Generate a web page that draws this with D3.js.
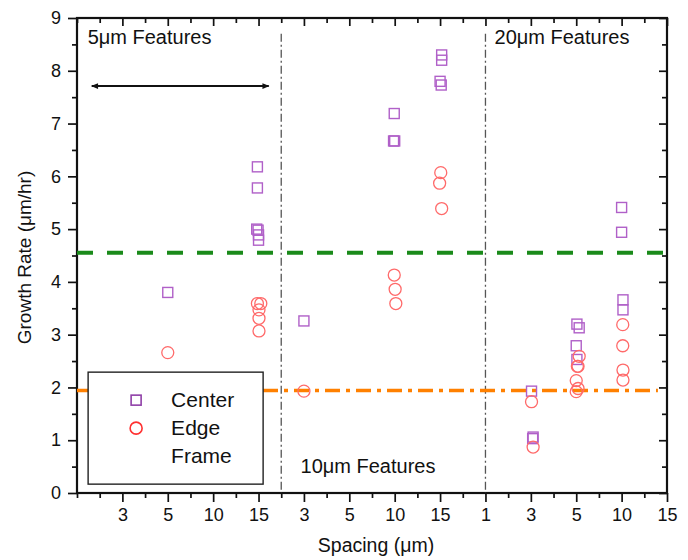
<!DOCTYPE html>
<html>
<head>
<meta charset="utf-8">
<script src="https://cdn.jsdelivr.net/npm/d3@7"></script>
<style>
  body { margin: 0; background: #fff; }
  svg text { font-family: Arial, "Liberation Sans", sans-serif; fill: #111; }
</style>
</head>
<body>
<svg id="chart" width="688" height="560"></svg>
<script>
// x axis is a position index: three groups of spacings, each divided by a dash-dot line
const xTickPos = [2, 4, 6, 8, 10, 12, 14, 16, 18, 20, 22, 24, 26]
const xTickLabels = ["3", "5", "10", "15", "3", "5", "10", "15", "1", "3", "5", "10", "15"]
const dividers = [9, 18]
const groupLabels = ["5μm Features", "10μm Features", "20μm Features"]

// [x position, growth rate]
const centerPts = [
    [4, 3.80],
    [7.95, 6.18], [7.95, 5.78], [7.92, 5.00], [7.98, 4.98], [8.0, 4.89], [8.0, 4.79],
    [10, 3.26],
    [13.98, 7.19], [13.95, 6.67], [14.0, 6.67],
    [16.07, 8.30], [16.07, 8.20], [16.0, 7.80], [16.05, 7.73],
    [20.03, 1.93], [20.1, 1.06], [20.08, 1.03],
    [22.03, 3.20], [22.13, 3.13], [22.0, 2.79], [22.03, 2.53],
    [24.0, 5.41], [24.0, 4.94], [24.06, 3.66], [24.06, 3.47]
]
const edgePts = [
    [4, 2.66],
    [7.95, 3.59], [8.1, 3.59], [8.02, 3.47], [8.02, 3.31], [8.02, 3.07],
    [10, 1.93],
    [13.98, 4.13], [14.02, 3.86], [14.05, 3.59],
    [16.03, 6.07], [15.98, 5.87], [16.07, 5.39],
    [20.03, 1.73], [20.1, 0.87],
    [22.13, 2.59], [22.08, 2.40], [22.05, 2.40], [22.0, 2.13], [22.08, 1.98], [22.0, 1.92],
    [24.05, 3.19], [24.05, 2.79], [24.06, 2.33], [24.06, 2.14]
]
const greenLevel = 4.55
const orangeLevel = 1.94
const arrowLevel = 7.71
const legendItems = ["Center", "Edge", "Frame"]

const margin = { top: 18, right: 21, bottom: 67, left: 77 }
const W = 688, H = 560
const pw = W - margin.left - margin.right
const ph = H - margin.top - margin.bottom

const svg = d3.select("#chart")
const g = svg.append("g").attr("transform", `translate(${margin.left},${margin.top})`)

const x = d3.scaleLinear().domain([0, 26]).range([0, pw])
const y = d3.scaleLinear().domain([0, 9]).range([ph, 0])

// ticks: left / bottom outward, top / right inward
const xMinor = d3.range(0, 27).filter(d => !xTickPos.includes(d))
const yMinor = d3.range(0.5, 9, 1)

g.append("g").attr("transform", `translate(0,${ph})`)
    .call(d3.axisBottom(x).tickValues(xTickPos).tickFormat((d, i) => xTickLabels[i]).tickSize(9).tickPadding(6))
g.append("g").attr("transform", `translate(0,${ph})`)
    .call(d3.axisBottom(x).tickValues(xMinor).tickFormat("").tickSize(5))
g.append("g")
    .call(d3.axisBottom(x).tickValues(xTickPos).tickFormat("").tickSize(8))
g.append("g")
    .call(d3.axisBottom(x).tickValues(xMinor).tickFormat("").tickSize(5))

g.append("g")
    .call(d3.axisLeft(y).tickValues(d3.range(0, 10)).tickFormat(d3.format("d")).tickSize(9).tickPadding(7))
g.append("g")
    .call(d3.axisLeft(y).tickValues(yMinor).tickFormat("").tickSize(5))
g.append("g").attr("transform", `translate(${pw},0)`)
    .call(d3.axisLeft(y).tickValues(d3.range(0, 10)).tickFormat("").tickSize(8))
g.append("g").attr("transform", `translate(${pw},0)`)
    .call(d3.axisLeft(y).tickValues(yMinor).tickFormat("").tickSize(5))

g.selectAll(".domain").remove()
g.selectAll(".tick line").attr("stroke", "#111").attr("stroke-width", 1.7)
g.selectAll(".tick text").style("font-size", "18px").attr("fill", "#111")

// frame
g.append("rect").attr("x", 0).attr("y", 0).attr("width", pw).attr("height", ph)
    .attr("fill", "none").attr("stroke", "#111").attr("stroke-width", 2.2)

// group dividers
dividers.forEach(d => {
    g.append("line")
        .attr("x1", x(d)).attr("x2", x(d)).attr("y1", y(8.7)).attr("y2", ph)
        .attr("stroke", "#555").attr("stroke-width", 1.3)
        .attr("stroke-dasharray", "8,3,2,3")
})

// reference levels
g.append("line")
    .attr("x1", 0).attr("x2", pw).attr("y1", y(greenLevel)).attr("y2", y(greenLevel))
    .attr("stroke", "#1a8a1a").attr("stroke-width", 4)
    .attr("stroke-dasharray", "16,14")
g.append("line")
    .attr("x1", 0).attr("x2", x(25.6)).attr("y1", y(orangeLevel)).attr("y2", y(orangeLevel))
    .attr("stroke", "#ff8000").attr("stroke-width", 3.5)
    .attr("stroke-dasharray", "15,6,4,6")

// group labels
g.append("text").attr("x", x(0.47)).attr("y", y(8.5)).style("font-size", "20px").text(groupLabels[0])
g.append("text").attr("x", x(9.85)).attr("y", y(0.38)).style("font-size", "20px").text(groupLabels[1])
g.append("text").attr("x", x(18.4)).attr("y", y(8.5)).style("font-size", "20px").text(groupLabels[2])

// double arrow over the 5um group
svg.append("defs").append("marker")
    .attr("id", "ah").attr("viewBox", "0 0 10 10").attr("refX", 9).attr("refY", 5)
    .attr("markerWidth", 10).attr("markerHeight", 7).attr("markerUnits", "userSpaceOnUse")
    .attr("orient", "auto-start-reverse")
    .append("path").attr("d", "M0,1L10,5L0,9z").attr("fill", "#111")
g.append("line")
    .attr("x1", x(0.65)).attr("x2", x(8.45)).attr("y1", y(arrowLevel)).attr("y2", y(arrowLevel))
    .attr("stroke", "#111").attr("stroke-width", 2)
    .attr("marker-start", "url(#ah)").attr("marker-end", "url(#ah)")

// legend
const lg = g.append("g").attr("transform", `translate(${x(0.49)},${y(2.29)})`)
lg.append("rect").attr("width", 175).attr("height", 112)
    .attr("fill", "#fff").attr("stroke", "#222").attr("stroke-width", 1.4)
const legendSym = ["square", "circle", null]
legendItems.forEach((t, i) => {
    const cy = 28 + i * 28
    if (legendSym[i] === "square") {
        lg.append("rect").attr("x", 43).attr("y", cy - 5).attr("width", 10).attr("height", 10)
            .attr("fill", "none").attr("stroke", "#9040a8").attr("stroke-width", 1.6)
    } else if (legendSym[i] === "circle") {
        lg.append("circle").attr("cx", 48).attr("cy", cy).attr("r", 6)
            .attr("fill", "none").attr("stroke", "#ff3030").attr("stroke-width", 1.6)
    }
    lg.append("text").attr("x", 83).attr("y", cy + 7).style("font-size", "21px").text(t)
})

// points
g.selectAll(".ctr").data(centerPts).enter().append("rect")
    .attr("class", "ctr")
    .attr("x", d => x(d[0]) - 5).attr("y", d => y(d[1]) - 5)
    .attr("width", 10).attr("height", 10)
    .attr("fill", "none").attr("stroke", "#b060c8").attr("stroke-width", 1.4)
g.selectAll(".edg").data(edgePts).enter().append("circle")
    .attr("class", "edg")
    .attr("cx", d => x(d[0])).attr("cy", d => y(d[1])).attr("r", 6)
    .attr("fill", "none").attr("stroke", "#ff6a6a").attr("stroke-width", 1.3)

// axis titles
svg.append("text").attr("x", margin.left + pw / 2 + 4).attr("y", 552)
    .attr("text-anchor", "middle").style("font-size", "19.5px").text("Spacing (μm)")
svg.append("text").attr("transform", `translate(31,${margin.top + ph / 2 + 2}) rotate(-90)`)
    .attr("text-anchor", "middle").style("font-size", "19px").text("Growth Rate (μm/hr)")
</script>
</body>
</html>
